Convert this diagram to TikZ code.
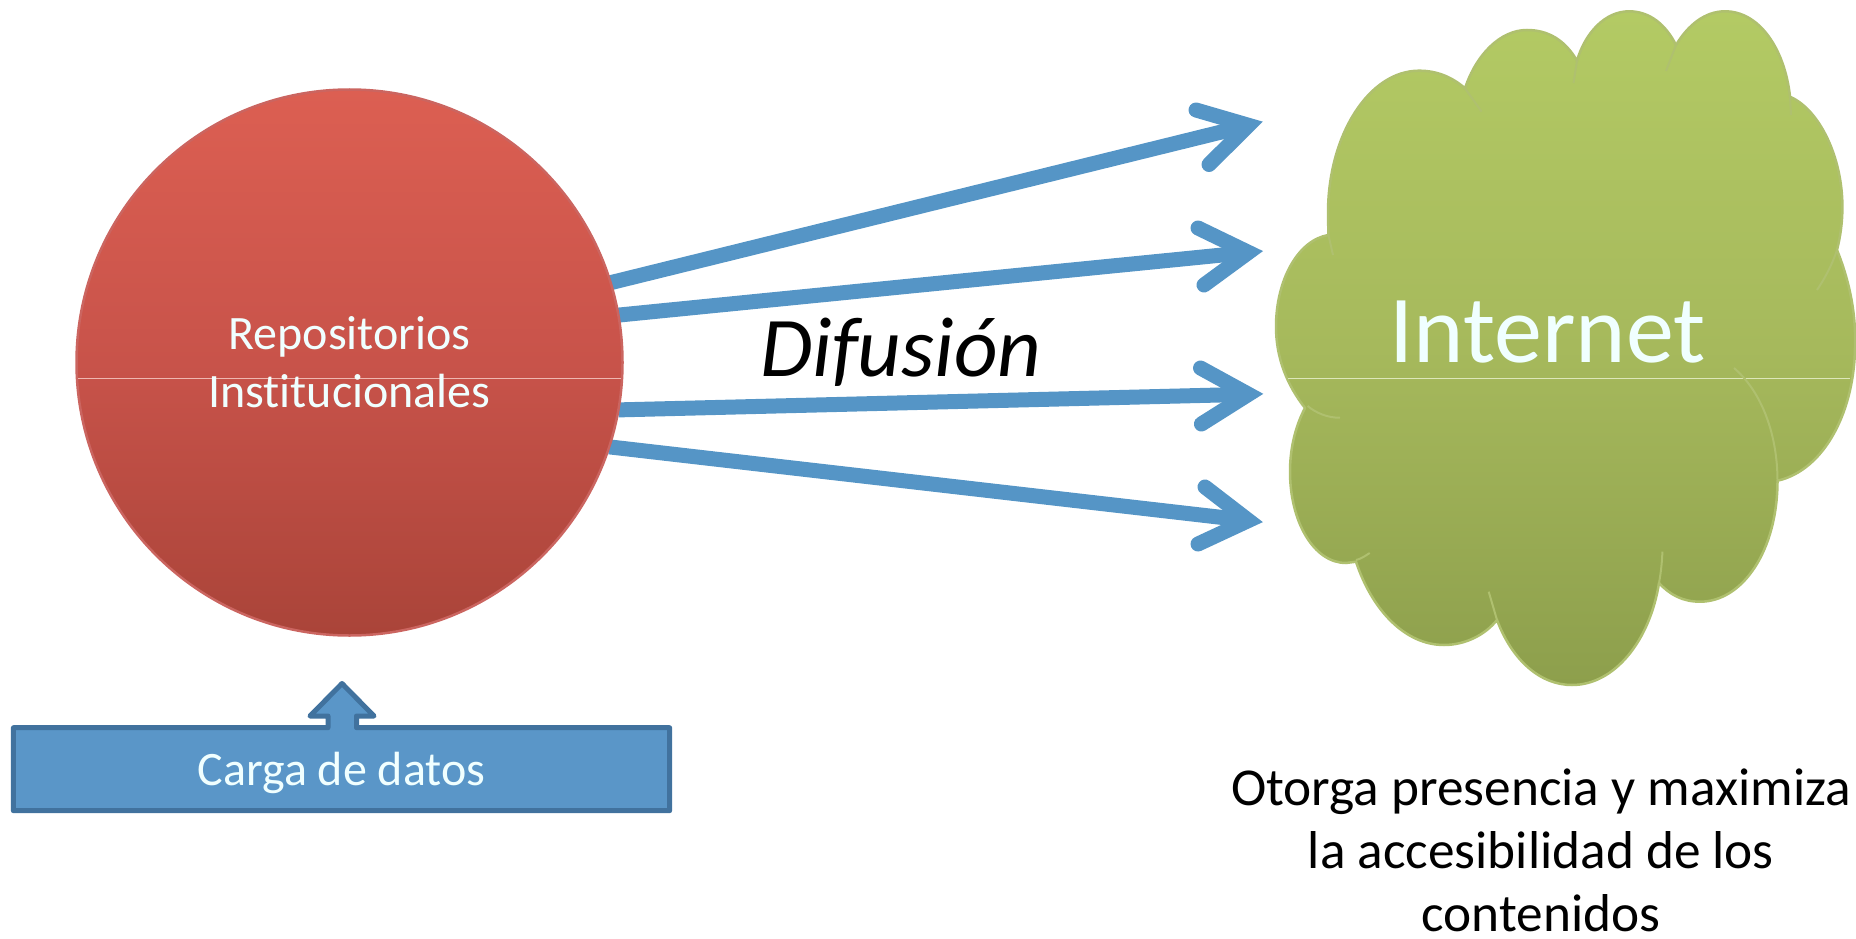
\documentclass[tikz,border=0pt]{standalone}
\usepackage{fontspec}
\setmainfont[Ligatures={NoCommon}]{Carlito}
\usetikzlibrary{backgrounds}
\definecolor{arrowblue}{HTML}{5595C6}
\definecolor{boxfill}{HTML}{5A96C8}
\definecolor{boxline}{HTML}{41729E}
\definecolor{redtop}{HTML}{DC5F52}
\definecolor{redmid}{HTML}{C8534A}
\definecolor{redbot}{HTML}{AA4439}
\definecolor{redline}{HTML}{CB6560}
\definecolor{greentop}{HTML}{B3CA64}
\definecolor{greenmid}{HTML}{A6B95C}
\definecolor{greenbot}{HTML}{8D9F4C}
\definecolor{greenline}{HTML}{AFC06F}
\definecolor{softwhite}{HTML}{F0FFFF}
\tikzset{
  x=1pt,y=-1pt,
  repostyle/.style={circle,minimum size=546pt,inner sep=0pt,outer sep=0pt,draw=redline,line width=2.5pt,top color=redtop,bottom color=redbot,middle color=redmid},
  seamred/.style={draw=redtop!45!white,line width=0.8pt},
  seamgreen/.style={draw=greentop!45!white,line width=0.8pt},
  cloudstyle/.style={draw=greenline,line width=2.5pt,top color=greentop,bottom color=greenbot,middle color=greenmid,line join=round},
  cloudtail/.style={draw=greenline,line width=2pt},
  shaft/.style={draw=arrowblue,line width=15pt},
  barb/.style={draw=arrowblue,line width=15pt,line cap=round,miter limit=10},
  uplabel/.style={text=softwhite,align=center,inner sep=0pt},
  boxstyle/.style={draw=boxline,fill=boxfill,line width=5pt,line join=round},
}
\begin{document}
\begin{tikzpicture}
\useasboundingbox (0,0) rectangle (1856,939);
% cloud
\path[cloudstyle]
 (1328.4,235) -- (1328,213)
 .. controls (1328,135) and (1369,70.7) .. (1419,70.7)
 .. controls (1437,70.7) and (1452,77) .. (1465,88.3)
 .. controls (1476,55) and (1500,30) .. (1527,30)
 .. controls (1548,30) and (1565,40) .. (1577,60.7)
 .. controls (1585,33) and (1605,11.3) .. (1629,11.3)
 .. controls (1650,11.3) and (1666,25) .. (1676,45)
 .. controls (1688,25) and (1705,11.3) .. (1725,11.3)
 .. controls (1760,11.3) and (1785,50) .. (1790,96.7)
 .. controls (1820,110) and (1842.4,158) .. (1842.4,206.7)
 .. controls (1842.4,222) and (1840.5,236) .. (1837,250)
 .. controls (1849,280) and (1856,312) .. (1855,345)
 .. controls (1855,410) and (1825,470) .. (1777.5,480.7)
 .. controls (1777.5,550) and (1743,601.7) .. (1700,601.7)
 .. controls (1683,601.7) and (1670,595) .. (1659,583)
 .. controls (1650,640) and (1615,685) .. (1572,685)
 .. controls (1540,685) and (1512,660) .. (1497,620)
 .. controls (1485,635) and (1465,645) .. (1444,645)
 .. controls (1405,645) and (1372,610) .. (1356,561.7)
 -- (1346,563)
 .. controls (1314,563) and (1290,522) .. (1290,471.7)
 .. controls (1290,447) and (1296,425) .. (1305,408)
 .. controls (1287,385) and (1276,358) .. (1276,326.7)
 .. controls (1276,280) and (1298,240) .. (1328.4,235)
 -- cycle;
\draw[seamgreen] (1288,378) -- (1850,378);
\draw[cloudtail] (1465,88.3) -- (1481.6,111.7);
\draw[cloudtail] (1577,60.7) -- (1573.5,83);
\draw[cloudtail] (1676,45) -- (1666,71);
\draw[cloudtail] (1790,96.7) -- (1791,115);
\draw[cloudtail] (1837,250) .. controls (1832,265) and (1825,278) .. (1817,290);
\draw[cloudtail] (1734,368) .. controls (1762,392) and (1777.5,435) .. (1777.5,481);
\draw[cloudtail] (1659,583) .. controls (1661,572) and (1662,562) .. (1662.4,551.7);
\draw[cloudtail] (1497,620) -- (1488.7,591.7);
\draw[cloudtail] (1356,560) .. controls (1361,559) and (1365,556) .. (1369.7,553);
\draw[cloudtail] (1307.6,406) .. controls (1316,413) and (1328,418) .. (1340,417.7);
\draw[cloudtail] (1328.4,235) -- (1333,255);
\node[uplabel,font=\fontsize{96}{104}\selectfont,anchor=base] (internet) at (1547.7,362.7) {Internet};
% repository
\node[repostyle] (repo) at (349.5,362.5) {};
\draw[seamred] (78,378) -- (621,378);
\node[uplabel,font=\fontsize{48}{58}\selectfont] (repolabel) at (repo) {Repositorios\\Institucionales};
% arrow targets
\coordinate (v1) at (1248.5,125.3);
\coordinate (v2) at (1248.5,252.4);
\coordinate (v3) at (1248.5,394.3);
\coordinate (v4) at (1248.5,520.5);
\begin{pgfonlayer}{background}
\draw[shaft] (repo.17.5) -- (v1);
\draw[shaft] (repo.10.6) -- (v2);
\draw[shaft] (repo.-10.3) -- (v3);
\draw[shaft] (repo.-18.8) -- (v4);
\draw[barb] (1196,110) -- (v1) -- (1209,164.5);
\draw[barb] (1198,228) -- (v2) -- (1204,285);
\draw[barb] (1200.5,368) -- (v3) -- (1201.4,424);
\draw[barb] (1205,487) -- (v4) -- (1198,544);
\end{pgfonlayer}
\node[font=\fontsize{85}{93}\selectfont\itshape,anchor=base,inner sep=0pt] (difusion) at (901,376.7) {Difusión};
% data box
\draw[boxstyle] (13.4,727.7) -- (328,727.7) -- (328,716) -- (310,716) -- (342,683.5) -- (374,716) -- (356.5,716) -- (356.5,727.7) -- (669.6,727.7) -- (669.6,810.7) -- (13.4,810.7) -- cycle;
\node[uplabel,font=\fontsize{48}{54}\selectfont,anchor=base] (carga) at (341.5,785) {Carga de datos};
% caption
\node[align=center,inner sep=0pt,font=\fontsize{53.3}{63}\selectfont,anchor=base] (caption) at (1541,931) {Otorga presencia y maximiza\\la accesibilidad de los\\contenidos};
\end{tikzpicture}
\end{document}
